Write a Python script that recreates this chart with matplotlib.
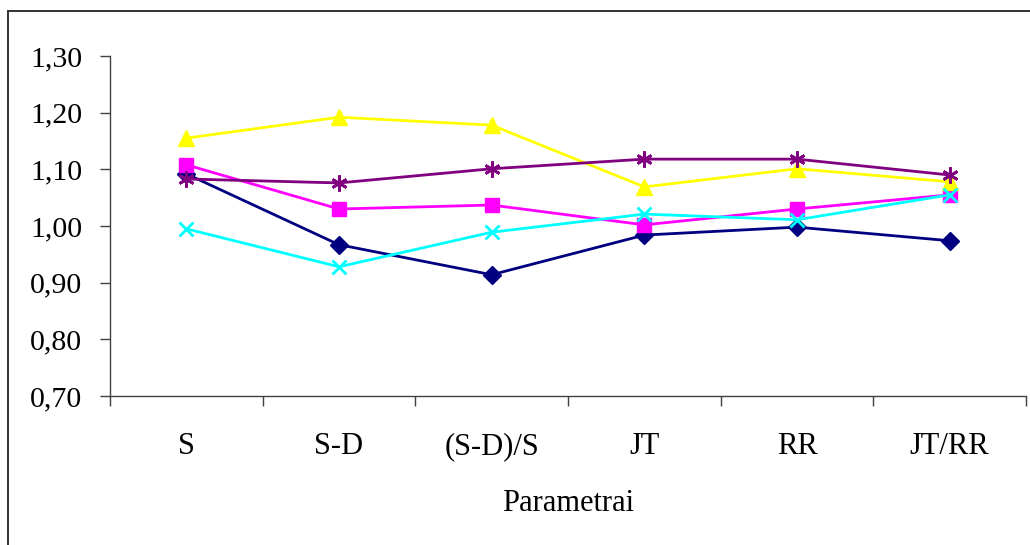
import matplotlib
matplotlib.use("Agg")
import matplotlib.pyplot as plt
from matplotlib.lines import Line2D
from matplotlib.ticker import FuncFormatter

# Category labels and series values
categories = ["S", "S-D", "(S-D)/S", "JT", "RR", "JT/RR"]
navy_vals = [1.092, 0.967, 0.914, 0.984, 0.998, 0.974]
magenta_vals = [1.108, 1.030, 1.037, 1.002, 1.030, 1.055]
yellow_vals = [1.155, 1.192, 1.178, 1.069, 1.101, 1.078]
cyan_vals = [0.995, 0.928, 0.989, 1.021, 1.011, 1.055]
purple_vals = [1.083, 1.076, 1.101, 1.118, 1.118, 1.090]

plt.rcParams['font.family'] = ['Liberation Serif', 'DejaVu Serif']

fig = plt.figure(figsize=(10.3, 5.45), dpi=100)
ax = fig.add_axes([110 / 1030, 1 - 396 / 545, 916 / 1030, 340 / 545])

x = list(range(len(categories)))
ax.plot(x, navy_vals, color="#000080", lw=2, marker="D", ms=9.5)
ax.plot(x, magenta_vals, color="#FF00FF", lw=2, marker="s", ms=10.5)
ax.plot(x, yellow_vals, color="#FFFF00", lw=2, marker="^", ms=11)
ax.plot(x, cyan_vals, color="#00FFFF", lw=2, marker="x", ms=10.5, mew=2)
ax.plot(x, purple_vals, color="#800080", lw=2, marker=(6, 2, 0), ms=11.5, mew=2)

ax.set_xlim(-0.5, len(categories) - 0.5)
ax.set_ylim(0.70, 1.30)
ax.set_yticks([0.70, 0.80, 0.90, 1.00, 1.10, 1.20, 1.30])
ax.yaxis.set_major_formatter(FuncFormatter(lambda v, p: f"{v:.2f}".replace(".", ",")))

# boundary ticks without labels, labels at category centres
ax.set_xticks([i - 0.5 for i in range(len(categories) + 1)])
ax.set_xticklabels([])
ax.set_xticks(x, minor=True)
ax.set_xticklabels(categories, minor=True)
ax.tick_params(axis="x", which="major", length=7, width=1, color="#404040", direction="out")
ax.tick_params(axis="x", which="minor", length=0, pad=26, labelsize=22)
ax.tick_params(axis="y", length=7, width=1, color="#404040", direction="out", pad=13, labelsize=21.5)

for side in ["top", "right"]:
    ax.spines[side].set_visible(False)
for side in ["left", "bottom"]:
    ax.spines[side].set_color("#404040")
    ax.spines[side].set_linewidth(1)

ax.set_xlabel("Parametrai", fontsize=22, labelpad=20)

# outer chart frame (left and top edges visible)
fig.add_artist(Line2D([8 / 1030, 8 / 1030], [0, 1 - 10.5 / 545], transform=fig.transFigure,
                      color="#333333", lw=1.4))
fig.add_artist(Line2D([8 / 1030, 1], [1 - 10.5 / 545, 1 - 10.5 / 545], transform=fig.transFigure,
                      color="#333333", lw=1.4))

fig.savefig("out.png", dpi=100)
